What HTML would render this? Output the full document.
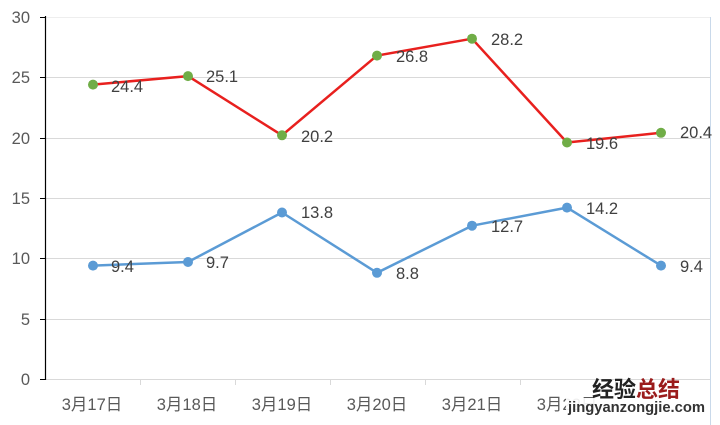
<!DOCTYPE html>
<html><head><meta charset="utf-8"><style>
html,body{margin:0;padding:0;background:#fff;}
svg{display:block;}
text{font-family:"Liberation Sans","Noto Sans CJK SC",sans-serif;}
</style></head><body>
<svg width="720" height="425" viewBox="0 0 720 425" xmlns="http://www.w3.org/2000/svg">
<rect width="720" height="425" fill="#fff"/>
<!-- gridlines -->
<g stroke="#d9d9d9" stroke-width="1">
<line x1="45" y1="17.5" x2="711" y2="17.5" stroke="#eeeeee"/>
<line x1="45" y1="77.5" x2="711" y2="77.5"/>
<line x1="45" y1="138.5" x2="711" y2="138.5"/>
<line x1="45" y1="198.5" x2="711" y2="198.5"/>
<line x1="45" y1="258.5" x2="711" y2="258.5"/>
<line x1="45" y1="319.5" x2="711" y2="319.5"/>
<line x1="45" y1="379.5" x2="711" y2="379.5"/>
</g>
<!-- x ticks -->
<g stroke="#d9d9d9" stroke-width="1">
<line x1="140.5" y1="379" x2="140.5" y2="385"/>
<line x1="235.5" y1="379" x2="235.5" y2="385"/>
<line x1="330.5" y1="379" x2="330.5" y2="385"/>
<line x1="425.5" y1="379" x2="425.5" y2="385"/>
<line x1="520.5" y1="379" x2="520.5" y2="385"/>
<line x1="615.5" y1="379" x2="615.5" y2="385"/>
</g>
<!-- right border -->
<line x1="710.5" y1="17" x2="710.5" y2="425" stroke="#c9d9ea" stroke-width="1"/>
<!-- y axis -->
<line x1="45.5" y1="16" x2="45.5" y2="380" stroke="#000" stroke-width="1.2"/>
<g stroke="#000" stroke-width="1">
<line x1="40" y1="17.5" x2="45" y2="17.5"/>
<line x1="40" y1="77.5" x2="45" y2="77.5"/>
<line x1="40" y1="138.5" x2="45" y2="138.5"/>
<line x1="40" y1="198.5" x2="45" y2="198.5"/>
<line x1="40" y1="258.5" x2="45" y2="258.5"/>
<line x1="40" y1="319.5" x2="45" y2="319.5"/>
<line x1="40" y1="379.5" x2="45" y2="379.5"/>
</g>
<g fill="#595959" font-size="16.5" text-anchor="end">
<text x="30" y="23">30</text>
<text x="30" y="83">25</text>
<text x="30" y="144">20</text>
<text x="30" y="204">15</text>
<text x="30" y="264">10</text>
<text x="30" y="325">5</text>
<text x="30" y="385">0</text>
</g>
<!-- x labels -->
<g fill="#595959" font-size="16.5" text-anchor="middle">
<text x="92" y="410">3月17日</text>
<text x="187" y="410">3月18日</text>
<text x="282" y="410">3月19日</text>
<text x="377" y="410">3月20日</text>
<text x="472" y="410">3月21日</text>
<text x="567" y="410">3月22日</text>
</g>
<!-- red series -->
<polyline fill="none" stroke="#e8201e" stroke-width="2.5" stroke-linejoin="round" points="93,84.6 188,76.1 282,135.3 377,55.6 472,38.7 567,142.5 661,132.8"/>
<g fill="#70ad47">
<circle cx="93" cy="84.6" r="5"/><circle cx="188" cy="76.1" r="5"/><circle cx="282" cy="135.3" r="5"/>
<circle cx="377" cy="55.6" r="5"/><circle cx="472" cy="38.7" r="5"/><circle cx="567" cy="142.5" r="5"/><circle cx="661" cy="132.8" r="5"/>
</g>
<!-- blue series -->
<polyline fill="none" stroke="#5b9bd5" stroke-width="2.5" stroke-linejoin="round" points="93,265.6 188,262 282,212.5 377,272.8 472,225.7 567,207.6 661,265.6"/>
<g fill="#5b9bd5">
<circle cx="93" cy="265.6" r="5"/><circle cx="188" cy="262" r="5"/><circle cx="282" cy="212.5" r="5"/>
<circle cx="377" cy="272.8" r="5"/><circle cx="472" cy="225.7" r="5"/><circle cx="567" cy="207.6" r="5"/><circle cx="661" cy="265.6" r="5"/>
</g>
<!-- data labels -->
<g fill="#404040" font-size="16.5">
<text x="111" y="92">24.4</text>
<text x="206" y="82">25.1</text>
<text x="301" y="142">20.2</text>
<text x="396" y="62">26.8</text>
<text x="491" y="45">28.2</text>
<text x="586" y="149">19.6</text>
<text x="680" y="138">20.4</text>
<text x="111" y="272">9.4</text>
<text x="206" y="268">9.7</text>
<text x="301" y="218">13.8</text>
<text x="396" y="279">8.8</text>
<text x="491" y="232">12.7</text>
<text x="586" y="214">14.2</text>
<text x="680" y="272">9.4</text>
</g>
<!-- watermark -->
<rect x="566" y="398" width="140" height="17" fill="#fff" opacity="0.9"/>
<text x="592" y="397" font-size="22" font-weight="bold" fill="#222" font-family="'Noto Sans CJK SC',sans-serif">经验<tspan fill="#9b1c1c">总结</tspan></text>
<text x="568" y="412" font-size="15" font-weight="bold" fill="#333" textLength="137" lengthAdjust="spacingAndGlyphs">jingyanzongjie.com</text>
</svg>
</body></html>
